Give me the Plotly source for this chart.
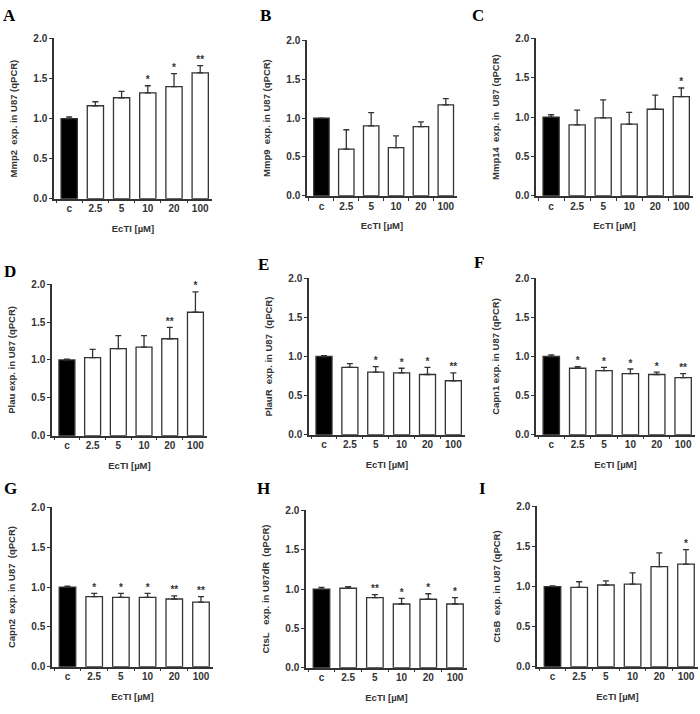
import plotly.graph_objects as go
from plotly.subplots import make_subplots

# EcTI doses (x categories)
doses = ["c", "2.5", "5", "10", "20", "100"]

# relative expression (mean), upper SD and significance marks per gene
mmp2 = [1.00, 1.16, 1.26, 1.32, 1.40, 1.57]
mmp2_err = [0.02, 0.05, 0.08, 0.09, 0.16, 0.09]
mmp2_sig = ["", "", "", "*", "*", "**"]

mmp9 = [1.00, 0.60, 0.90, 0.62, 0.89, 1.17]
mmp9_err = [0.00, 0.25, 0.17, 0.15, 0.06, 0.08]
mmp9_sig = ["", "", "", "", "", ""]

mmp14 = [1.00, 0.90, 0.99, 0.91, 1.10, 1.26]
mmp14_err = [0.03, 0.19, 0.23, 0.15, 0.18, 0.11]
mmp14_sig = ["", "", "", "", "", "*"]

plau = [1.00, 1.03, 1.15, 1.17, 1.28, 1.63]
plau_err = [0.01, 0.11, 0.17, 0.15, 0.15, 0.27]
plau_sig = ["", "", "", "", "**", "*"]

plaur = [1.00, 0.86, 0.80, 0.79, 0.77, 0.69]
plaur_err = [0.01, 0.05, 0.07, 0.06, 0.09, 0.10]
plaur_sig = ["", "", "*", "*", "*", "**"]

capn1 = [1.00, 0.85, 0.82, 0.78, 0.77, 0.73]
capn1_err = [0.02, 0.02, 0.04, 0.06, 0.03, 0.05]
capn1_sig = ["", "*", "*", "*", "*", "**"]

capn2 = [1.00, 0.88, 0.87, 0.87, 0.85, 0.81]
capn2_err = [0.01, 0.04, 0.05, 0.05, 0.04, 0.07]
capn2_sig = ["", "*", "*", "*", "**", "**"]

ctsl = [1.00, 1.01, 0.89, 0.81, 0.87, 0.81]
ctsl_err = [0.02, 0.02, 0.04, 0.07, 0.07, 0.08]
ctsl_sig = ["", "", "**", "*", "*", "*"]

ctsb = [1.00, 0.99, 1.02, 1.03, 1.25, 1.28]
ctsb_err = [0.01, 0.07, 0.05, 0.14, 0.17, 0.18]
ctsb_sig = ["", "", "", "", "", "*"]

letters = ["A", "B", "C", "D", "E", "F", "G", "H", "I"]
ytitles = [
    "Mmp2  exp. in U87 (qPCR)",
    "Mmp9  exp. in U87 (qPCR)",
    "Mmp14  exp. in  U87 (qPCR)",
    "Plau exp. in U87 (qPCR)",
    "PlauR  exp. in U87  (qPCR)",
    "Capn1 exp. in U87 (qPCR)",
    "Capn2  exp. in U87  (qPCR)",
    "CtsL   exp. in U87dR  (qPCR)",
    "CtsB  exp. in U87 (qPCR)",
]
values = [mmp2, mmp9, mmp14, plau, plaur, capn1, capn2, ctsl, ctsb]
errors = [mmp2_err, mmp9_err, mmp14_err, plau_err, plaur_err, capn1_err,
          capn2_err, ctsl_err, ctsb_err]
signif = [mmp2_sig, mmp9_sig, mmp14_sig, plau_sig, plaur_sig, capn1_sig,
          capn2_sig, ctsl_sig, ctsb_sig]

W, H = 700, 714
# plot areas in pixels: x0, x1, ytop, ybottom
boxes = [
    (54, 212, 33, 196), (307, 457, 35, 193), (536, 693, 33, 193),
    (52, 207, 283, 437), (309, 465, 277, 436), (536, 695, 277, 436),
    (52, 213, 510, 672), (306, 467, 513, 673), (537, 698, 509, 672),
]
letter_pos = [
    (9, 10), (265, 10), (478, 10),
    (10, 270), (263, 263), (479, 261),
    (10, 491), (263, 491), (482, 491),
]

ink = "#333333"
tick_font = dict(family="Arial, Liberation Sans, sans-serif", size=10,
                 color=ink, weight="bold")
title_font = dict(family="Arial, Liberation Sans, sans-serif", size=9.5,
                  color=ink, weight="bold")

fig = make_subplots(rows=3, cols=3)

for i in range(9):
    r, c = i // 3 + 1, i % 3 + 1
    colors = ["black"] + ["white"] * 5
    fig.add_trace(go.Bar(
        x=doses, y=values[i], width=0.62,
        marker=dict(color=colors, line=dict(color=ink, width=1.3)),
        error_y=dict(type="data", array=errors[i], symmetric=False,
                     arrayminus=[0] * 6, color=ink, thickness=1.3, width=3),
        showlegend=False,
    ), row=r, col=c)
    tops = [v + e for v, e in zip(values[i], errors[i])]
    fig.add_trace(go.Scatter(
        x=doses, y=tops, mode="text", text=signif[i],
        textposition="top center",
        textfont=dict(family="Arial, Liberation Sans, sans-serif", size=10,
                      color=ink, weight="bold"),
        showlegend=False, cliponaxis=False,
    ), row=r, col=c)

    x0, x1, yt, yb = boxes[i]
    sfx = "" if i == 0 else str(i + 1)
    fig.layout["xaxis" + sfx].update(
        domain=[x0 / W, x1 / W], type="category", range=[-0.58, 5.45],
        tickson="boundaries", ticks="outside", ticklen=3, tickwidth=1.2,
        tickcolor=ink, showline=True, linecolor=ink, linewidth=1.5,
        showgrid=False, zeroline=False, tickfont=tick_font,
        title=dict(text="EcTI [µM]", font=title_font, standoff=12),
    )
    fig.layout["yaxis" + sfx].update(
        domain=[1 - yb / H, 1 - yt / H], range=[0, 2.0], dtick=0.5,
        tickformat=".1f", ticks="outside", ticklen=3, tickwidth=1.2,
        tickcolor=ink, showline=True, linecolor=ink, linewidth=1.5,
        showgrid=False, zeroline=False, tickfont=tick_font,
        title=dict(text=ytitles[i], font=title_font, standoff=14),
    )
    lx, ly = letter_pos[i]
    fig.add_annotation(
        x=lx / W, y=1 - ly / H, xref="paper", yref="paper",
        text="<b>" + letters[i] + "</b>", showarrow=False,
        font=dict(family="Liberation Serif, Times New Roman, serif", size=17,
                  color="black"),
        xanchor="center", yanchor="middle",
    )

fig.update_layout(
    width=W, height=H, margin=dict(l=0, r=0, t=0, b=0),
    paper_bgcolor="white", plot_bgcolor="white", bargap=0.38,
    hovermode=False,
)

# page has a default body margin; drop it so the figure fills the window
fig.write_html(
    "out.html",
    config={"displayModeBar": False},
    post_script="document.body.style.margin='0';"
                "document.body.style.overflow='hidden';",
)
